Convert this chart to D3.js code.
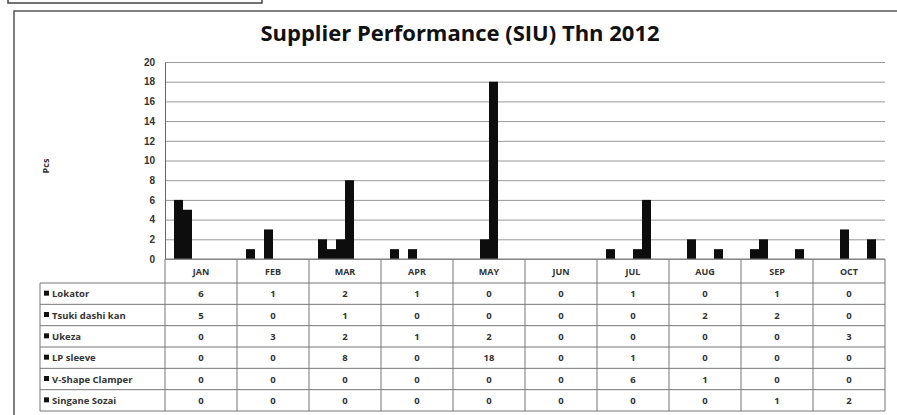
<!DOCTYPE html>
<html>
<head>
<meta charset="utf-8">
<script src="https://cdn.jsdelivr.net/npm/d3@7"></script>
<style>
  body { margin: 0; background: #fff; }
  svg { display: block; font-family: "Open Sans", "Liberation Sans", Arial, sans-serif; }
</style>
</head>
<body>
<div id="chart"></div>
<script>
const months = ['JAN', 'FEB', 'MAR', 'APR', 'MAY', 'JUN', 'JUL', 'AUG', 'SEP', 'OCT'];
const seriesNames = ['Lokator', 'Tsuki dashi kan', 'Ukeza', 'LP sleeve', 'V-Shape Clamper', 'Singane Sozai'];
const lokator = [6, 1, 2, 1, 0, 0, 1, 0, 1, 0];
const tsukiDashiKan = [5, 0, 1, 0, 0, 0, 0, 2, 2, 0];
const ukeza = [0, 3, 2, 1, 2, 0, 0, 0, 0, 3];
const lpSleeve = [0, 0, 8, 0, 18, 0, 1, 0, 0, 0];
const vShapeClamper = [0, 0, 0, 0, 0, 0, 6, 1, 0, 0];
const singaneSozai = [0, 0, 0, 0, 0, 0, 0, 0, 1, 2];
const yTicks = [0, 2, 4, 6, 8, 10, 12, 14, 16, 18, 20];

const seriesValues = [lokator, tsukiDashiKan, ukeza, lpSleeve, vShapeClamper, singaneSozai];

const width = 897, height = 415;
const plotLeft = 165, plotRight = 885, plotTop = 62, plotBottom = 259;
const headerBottom = 283, tableBottom = 411, labelLeft = 40;

const svg = d3.select('#chart').append('svg')
    .attr('width', width)
    .attr('height', height);

// scan frame bits
svg.append('rect')
    .attr('x', 8).attr('y', -2).attr('width', 254).attr('height', 5)
    .attr('fill', 'none').attr('stroke', '#444').attr('stroke-width', 1.5);
svg.append('path')
    .attr('d', `M14,${height} L14,11 L${width},11`)
    .attr('fill', 'none').attr('stroke', '#555').attr('stroke-width', 1.5);

svg.append('text')
    .attr('x', 460).attr('y', 41)
    .attr('text-anchor', 'middle')
    .attr('font-size', 22).attr('font-weight', 'bold')
    .attr('fill', '#111')
    .text('Supplier Performance (SIU) Thn 2012');

const xScale = d3.scaleBand()
    .domain(months)
    .range([plotLeft, plotRight]);

const xInner = d3.scaleBand()
    .domain(seriesNames)
    .range([0, xScale.bandwidth()])
    .paddingInner(0)
    .paddingOuter(1);

const yScale = d3.scaleLinear()
    .domain([0, 20])
    .range([plotBottom, plotTop]);

// gridlines
svg.append('g')
    .attr('class', 'grid')
    .attr('transform', `translate(${plotLeft},0)`)
    .call(d3.axisLeft(yScale).tickValues(yTicks).tickSize(-(plotRight - plotLeft)).tickFormat(''))
    .call(g => g.select('.domain').remove())
    .call(g => g.selectAll('line').attr('stroke', '#999').attr('stroke-width', 1));

// y axis
svg.append('g')
    .attr('class', 'axis y-axis')
    .attr('transform', `translate(${plotLeft},0)`)
    .call(d3.axisLeft(yScale).tickValues(yTicks).tickSize(0).tickPadding(10))
    .call(g => g.select('.domain').attr('stroke', '#666'))
    .call(g => g.selectAll('text').attr('font-family', 'inherit').attr('font-size', 10).attr('font-weight', 'bold').attr('fill', '#333'));

svg.append('text')
    .attr('transform', 'translate(49,166) rotate(-90)')
    .attr('text-anchor', 'middle')
    .attr('font-size', 9).attr('font-weight', 'bold')
    .attr('fill', '#333')
    .text('Pcs');

// bars
const barData = [];
seriesValues.forEach((vals, si) => {
    vals.forEach((v, mi) => barData.push({series: seriesNames[si], month: months[mi], value: v}));
});

svg.append('g')
    .selectAll('rect')
    .data(barData.filter(d => d.value > 0))
    .enter()
    .append('rect')
    .attr('class', 'bar')
    .attr('x', d => xScale(d.month) + xInner(d.series))
    .attr('width', xInner.bandwidth())
    .attr('y', d => yScale(d.value))
    .attr('height', d => yScale(0) - yScale(d.value))
    .attr('fill', '#0d0d0d');

// data table
const rowScale = d3.scaleBand()
    .domain(seriesNames)
    .range([headerBottom, tableBottom]);

const table = svg.append('g').attr('class', 'table')
    .attr('stroke', '#777').attr('stroke-width', 1);

// vertical lines
months.forEach(m => {
    table.append('line')
        .attr('x1', xScale(m)).attr('x2', xScale(m))
        .attr('y1', plotBottom).attr('y2', tableBottom);
});
table.append('line')
    .attr('x1', plotRight).attr('x2', plotRight)
    .attr('y1', plotBottom).attr('y2', tableBottom);
table.append('line')
    .attr('x1', labelLeft).attr('x2', labelLeft)
    .attr('y1', headerBottom).attr('y2', tableBottom);

// horizontal lines
table.append('line')
    .attr('x1', plotLeft).attr('x2', plotRight)
    .attr('y1', plotBottom).attr('y2', plotBottom);
seriesNames.forEach(s => {
    table.append('line')
        .attr('x1', labelLeft).attr('x2', plotRight)
        .attr('y1', rowScale(s)).attr('y2', rowScale(s));
});
table.append('line')
    .attr('x1', labelLeft).attr('x2', plotRight)
    .attr('y1', tableBottom).attr('y2', tableBottom);

// month headers
svg.append('g')
    .selectAll('text')
    .data(months)
    .enter()
    .append('text')
    .attr('x', d => xScale(d) + xScale.bandwidth() / 2)
    .attr('y', (plotBottom + headerBottom) / 2 + 4)
    .attr('text-anchor', 'middle')
    .attr('font-size', 9).attr('font-weight', 'bold')
    .attr('fill', '#333')
    .text(d => d);

// row labels with legend keys
const rows = svg.append('g')
    .selectAll('g')
    .data(seriesNames)
    .enter()
    .append('g')
    .attr('transform', d => `translate(0,${rowScale(d) + rowScale.bandwidth() / 2})`);

rows.append('rect')
    .attr('x', labelLeft + 4).attr('y', -3)
    .attr('width', 5).attr('height', 5)
    .attr('fill', '#111');

rows.append('text')
    .attr('x', labelLeft + 12).attr('y', 3.5)
    .attr('font-size', 9.5).attr('font-weight', 'bold')
    .attr('fill', '#333')
    .text(d => d);

// cell values
rows.each(function(s, si) {
    d3.select(this).selectAll('text.val')
        .data(seriesValues[si])
        .enter()
        .append('text')
        .attr('class', 'val')
        .attr('x', (d, i) => xScale(months[i]) + xScale.bandwidth() / 2)
        .attr('y', 3.5)
        .attr('text-anchor', 'middle')
        .attr('font-size', 9.5).attr('font-weight', 'bold')
        .attr('fill', '#333')
        .text(d => d);
});
</script>
</body>
</html>
